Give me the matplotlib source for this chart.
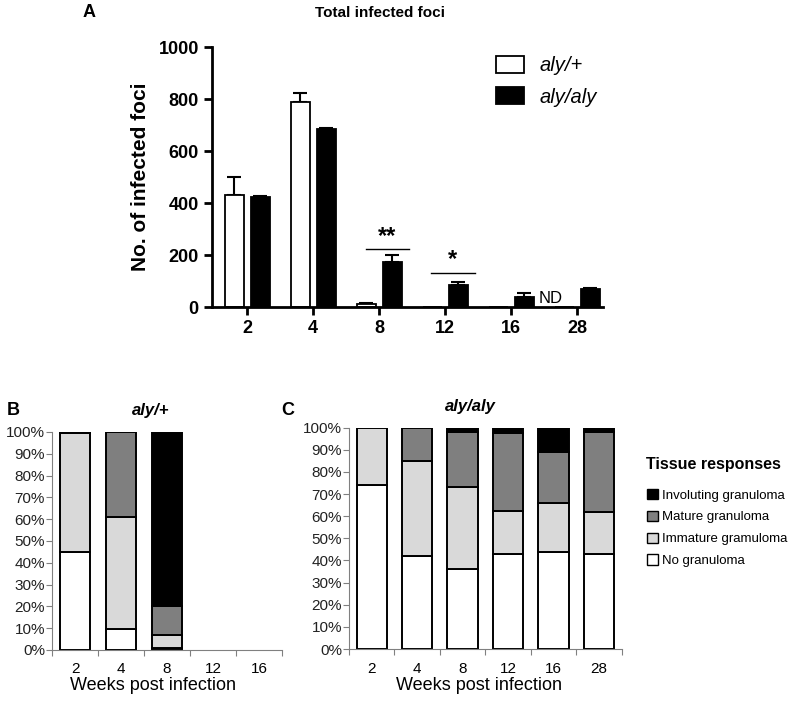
import numpy as np
import matplotlib
matplotlib.use("Agg")
import matplotlib.pyplot as plt
from matplotlib.patches import Patch

plt.rcParams['font.family'] = ['Liberation Sans', 'DejaVu Sans']

# panel A: total infected foci
weeks_a = ['2', '4', '8', '12', '16', '28']
het_foci = [431, 790, 10, 0, 0, 0]
het_err = [70, 32, 5, 0, 0, 0]
het_nd = [False, False, False, False, False, True]
aly_foci = [422, 686, 172, 83, 40, 70]
aly_err = [4, 4, 27, 14, 15, 3]

# panels B and C: tissue responses (%)
resp_names = ['No granuloma', 'Immature gramuloma', 'Mature granuloma', 'Involuting granuloma']
resp_colors = ['white', '#d9d9d9', '#7f7f7f', 'black']

weeks_b = ['2', '4', '8', '12', '16']
b_none = [45, 9.5, 1, 0, 0]
b_imm = [54.5, 51.5, 6, 0, 0]
b_mat = [0.5, 39, 13, 0, 0]
b_inv = [0, 0, 80, 0, 0]

weeks_c = ['2', '4', '8', '12', '16', '28']
c_none = [74, 42, 36, 43, 44, 43]
c_imm = [26, 43, 37, 19.5, 22, 19]
c_mat = [0, 15, 25, 35, 23, 36]
c_inv = [0, 0, 2, 2.5, 11, 2]

fig = plt.figure(figsize=(7.88, 7.03), dpi=100)

# ---- panel A ----
ax = fig.add_axes([0.269, 0.5633, 0.496, 0.3698])
x = np.arange(len(weeks_a))
w = 0.29
ax.bar(x - 0.19, het_foci, w, color='white', edgecolor='black', linewidth=1.3,
       label='aly/+', zorder=2)
ax.bar(x + 0.2, aly_foci, w, color='black', edgecolor='black', linewidth=1.3,
       label='aly/aly', zorder=2)
for i in range(len(x)):
    if het_err[i] > 0:
        ax.errorbar(x[i] - 0.19, het_foci[i], yerr=[[0], [het_err[i]]], fmt='none',
                    ecolor='black', elinewidth=1.5, capsize=5, capthick=1.5, zorder=1)
    if aly_err[i] > 0:
        ax.errorbar(x[i] + 0.2, aly_foci[i], yerr=[[0], [aly_err[i]]], fmt='none',
                    ecolor='black', elinewidth=1.5, capsize=5, capthick=1.5, zorder=1)
    if het_nd[i]:
        ax.text(x[i] - 0.4, 4, 'ND', ha='center', va='bottom', fontsize=12)

# significance marks
ax.plot([1.8, 2.45], [223, 223], color='black', lw=1)
ax.text(2.12, 228, '**', ha='center', va='bottom', fontsize=17, fontweight='bold')
ax.plot([2.78, 3.45], [132, 132], color='black', lw=1)
ax.text(3.12, 137, '*', ha='center', va='bottom', fontsize=17, fontweight='bold')

ax.set_xlim(-0.53, 5.39)
ax.set_ylim(0, 1000)
ax.set_yticks([0, 200, 400, 600, 800, 1000])
ax.set_xticks(x)
ax.set_xticklabels(weeks_a)
for s in ['top', 'right']:
    ax.spines[s].set_visible(False)
for s in ['left', 'bottom']:
    ax.spines[s].set_linewidth(2)
ax.tick_params(width=2, length=6, labelsize=13)
for lab in ax.get_xticklabels() + ax.get_yticklabels():
    lab.set_fontweight('bold')
ax.set_ylabel('No. of infected foci', fontsize=15, fontweight='bold', labelpad=6)
fig.text(380 / 788, 1 - 13 / 703, 'Total infected foci', fontsize=11,
         fontweight='bold', ha='center', va='center')
leg = ax.legend(loc='upper left', bbox_to_anchor=(0.68, 1.035), frameon=False,
                prop={'size': 14.5, 'style': 'italic'},
                handlelength=1.4, handleheight=0.9, handletextpad=0.75,
                labelspacing=0.6)
for h in leg.legend_handles:
    h.set_linewidth(1.3)
fig.text(0.105, 0.982, 'A', fontsize=13, fontweight='bold', va='center')


def stacked(ax, cats, parts, title, title_x, label_x):
    xs = np.arange(len(cats))
    bottom = np.zeros(len(cats))
    for vals, col, name in zip(parts, resp_colors, resp_names):
        vals = np.array(vals, dtype=float)
        keep = vals > 0
        ax.bar(xs[keep], vals[keep], 0.67, bottom=bottom[keep], color=col,
               edgecolor='black', linewidth=1.4, label=name)
        bottom += vals
    ax.set_xlim(-0.5, len(cats) - 0.5)
    ax.set_ylim(0, 100)
    ax.set_yticks(np.arange(0, 101, 10))
    ax.set_yticklabels(['%d%%' % v for v in range(0, 101, 10)])
    ax.set_xticks(np.arange(-0.5, len(cats), 1.0))
    ax.set_xticklabels([])
    ax.set_xticks(xs, minor=True)
    ax.set_xticklabels(cats, minor=True)
    ax.tick_params(axis='x', which='minor', length=0, pad=9)
    ax.tick_params(axis='both', which='major', length=4, color='#808080')
    ax.tick_params(axis='y', pad=1)
    ax.tick_params(labelsize=11, labelcolor='#222222')
    ax.tick_params(axis='x', which='minor', labelsize=11)
    for s in ['top', 'right']:
        ax.spines[s].set_visible(False)
    for s in ['left', 'bottom']:
        ax.spines[s].set_color('#808080')
    ax.set_xlabel('Weeks post infection', fontsize=13, labelpad=2)
    ax.xaxis.set_label_coords(label_x, -0.125)
    ax.set_title(title, fontsize=12, fontweight='bold', style='italic', pad=12,
                 x=title_x)


# ---- panel B ----
axb = fig.add_axes([0.066, 0.0754, 0.292, 0.3101])
stacked(axb, weeks_b, [b_none, b_imm, b_mat, b_inv], 'aly/+', 0.43, 0.44)
fig.text(0.008, 0.416, 'B', fontsize=13, fontweight='bold', va='center')

# ---- panel C ----
axc = fig.add_axes([0.4429, 0.0768, 0.3464, 0.3148])
stacked(axc, weeks_c, [c_none, c_imm, c_mat, c_inv], 'aly/aly', 0.445, 0.476)
fig.text(0.357, 0.416, 'C', fontsize=13, fontweight='bold', va='center')

fig.text(0.82, 1 - 465 / 703, 'Tissue responses', fontsize=11.5,
         fontweight='bold', va='center')
handles = [Patch(facecolor=c, edgecolor='black', linewidth=1) for c in resp_colors][::-1]
leg2 = fig.legend(handles, resp_names[::-1], loc='upper left',
                  bbox_to_anchor=(0.806, 1 - 477 / 703), frameon=False, fontsize=9.5,
                  handlelength=0.8, handleheight=0.8, handletextpad=0.3,
                  labelspacing=0.7)

fig.savefig('out.png', dpi=100)
